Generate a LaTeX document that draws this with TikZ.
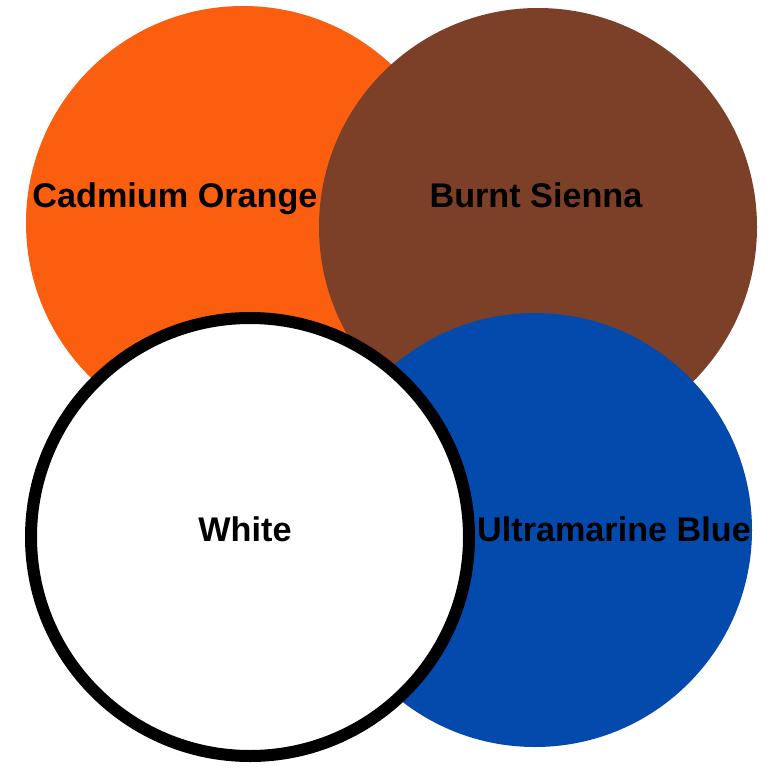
\documentclass[tikz,border=0pt]{standalone}
\usepackage{fontspec}
\setmainfont{Liberation Sans}
\usepackage{tikz}

\definecolor{cadmium}{RGB}{250,94,14}
\definecolor{sienna}{RGB}{124,63,40}
\definecolor{ultramarine}{RGB}{3,74,172}

\begin{document}
\begin{tikzpicture}[x=1pt,y=-1pt]
\tikzstyle{paintdisc}=[circle,inner sep=0pt,outer sep=0pt]
\tikzstyle{paintlbl}=[anchor=base,inner sep=0pt,font=\fontsize{34.2}{41}\selectfont\bfseries]
	\useasboundingbox[fill=white] (0,0) rectangle (768,768);
	% paints, back to front
    \node[paintdisc,fill=cadmium,minimum size=434pt] (orange) at (243,223) {};
    \node[paintdisc,fill=sienna,minimum size=438pt] (sienna) at (538,227) {};
    \node[paintdisc,fill=ultramarine,minimum size=434pt] (blue) at (535,530) {};
    \node[paintdisc,fill=white,draw=black,line width=12pt,minimum size=438pt] (white) at (250,537) {};
	% labels
    \node[paintlbl] (orangelbl) at (175,207) {Cadmium Orange};
    \node[paintlbl] (siennalbl) at (536,207) {Burnt Sienna};
    \node[paintlbl] (whitelbl) at (245,541) {White};
    \node[paintlbl] (bluelbl) at (614,541) {Ultramarine Blue};
\end{tikzpicture}
\end{document}
